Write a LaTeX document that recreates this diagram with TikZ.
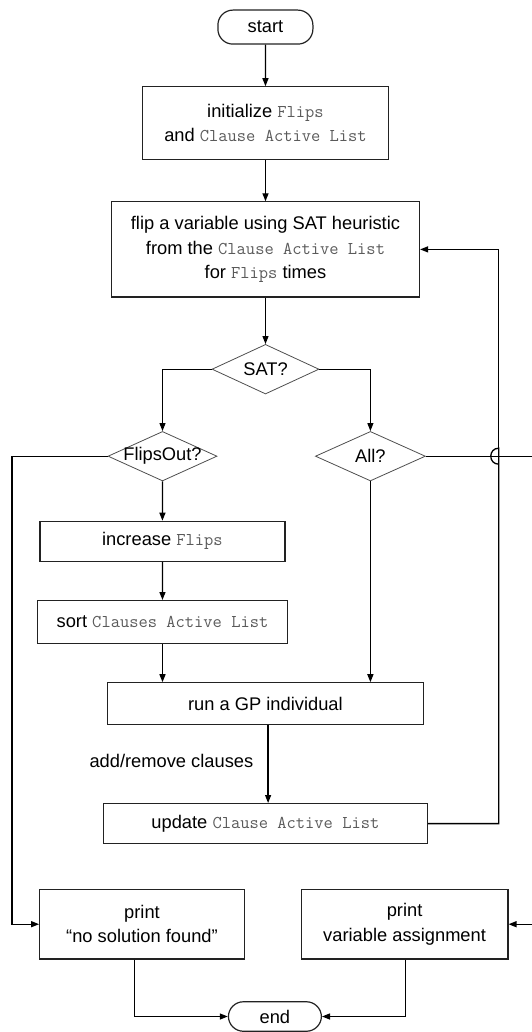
\documentclass[tikz,border=0pt]{standalone}
\usepackage{fontspec}
\setmainfont{Liberation Sans}
\usetikzlibrary{arrows.meta,shapes.geometric}
\definecolor{codegray}{HTML}{5A5A5A}
\definecolor{edgegray}{HTML}{222222}
\newcommand{\code}[1]{{\ttfamily\fontsize{18}{24.3}\selectfont\color{codegray}#1}}
\tikzset{
  every node/.style={font=\fontsize{18.3}{24.3}\selectfont, inner sep=0pt},
  procbox/.style={draw=edgegray, line width=1.2pt, rectangle, align=center},
  termbox/.style={draw=edgegray, line width=1.2pt, rectangle, rounded corners=15pt},
  testbox/.style={draw=edgegray!80, line width=0.8pt, diamond},
  arr/.style={line width=1.3pt, -{Triangle[length=8pt,width=6pt]}},
  thinarr/.style={line width=1pt, -{Triangle[length=8pt,width=6pt]}},
  plain/.style={line width=1.3pt},
}
\begin{document}
\begin{tikzpicture}[x=1pt, y=-1pt]
\useasboundingbox (0,0) rectangle (532,1032);

% terminators
\node[termbox, minimum width=95pt, minimum height=34pt] (start) at (265.4,27.1) {start};
\node[termbox, minimum width=93pt, minimum height=29.5pt] (end) at (274.9,1016.5) {end};

% process boxes
\node[procbox, minimum width=246pt, minimum height=73pt] (init) at (265.5,123.3)
  {initialize \code{Flips}\\and \code{Clause Active List}};
\node[procbox, minimum width=308pt, minimum height=95pt] (flip) at (265.5,249.4)
  {flip a variable using SAT heuristic\\from the \code{Clause Active List}\\for \code{Flips} times};
\node[procbox, minimum width=245pt, minimum height=40pt] (inc) at (162.4,541.3)
  {increase \code{Flips}};
\node[procbox, minimum width=250pt, minimum height=43pt] (sort) at (162.5,622.1)
  {sort \code{Clauses Active List}};
\node[procbox, minimum width=316pt, minimum height=42pt] (gp) at (265.4,703.8)
  {run a GP individual};
\node[procbox, minimum width=324pt, minimum height=40pt] (upd) at (265.4,823.6)
  {update \code{Clause Active List}};
\node[procbox, minimum width=204.6pt, minimum height=69.5pt] (nosol) at (142,924.2)
  {print\\``no solution found''};
\node[procbox, minimum width=206.7pt, minimum height=69.5pt] (var) at (404.6,924.2)
  {print\\variable assignment};

% decisions
\node[testbox, minimum width=107pt, minimum height=49.6pt] (sat) at (265.5,369.2) {};
\node at (sat.center) (satlbl) {SAT?};
\node[testbox, minimum width=109pt, minimum height=49.5pt] (fo) at (162.5,456.2) {};
\node at (fo.center) (folbl) {FlipsOut?};
\node[testbox, minimum width=110pt, minimum height=49.5pt] (all) at (370.4,456.2) {};
\node at (all.center) (alllbl) {All?};

% edge label
\node (addrm) at (171.4,761.1) {add/remove clauses};

% routing points
\coordinate (leftrail) at (11.9,0);
\coordinate (looprail) at (498.8,0);
\coordinate (rightrail) at (537,0);

% main flow
\draw[arr] (start) -- (init);
\draw[arr] (init) -- (flip);
\draw[arr] (flip) -- (sat);
\draw[thinarr] (sat.west) -| (fo.north);
\draw[thinarr] (sat.east) -| (all.north);
\draw[arr] (fo) -- (inc);
\draw[arr] (inc) -- (sort);
\draw[arr] (sort) -- (sort |- gp.north);
\draw[arr] (all) -- (all |- gp.north);
\draw[arr] ([xshift=2.7pt]gp.south) -- ([xshift=2.7pt]upd.north);

% loop back from the update, hopping over the All? exit line
\coordinate (hoplow) at ([yshift=8pt]looprail |- all.east);
\coordinate (hophigh) at ([yshift=-8pt]looprail |- all.east);
\draw[plain] (upd.east) -- (looprail |- upd.east) -- (hoplow)
  .. controls ([xshift=-10.7pt]hoplow) and ([xshift=-10.7pt]hophigh) .. (hophigh);
\draw[arr] (hophigh) -- (looprail |- flip.east) -- (flip.east);

% exits
\draw[arr] (fo.west) -| (leftrail |- nosol.west) -- (nosol.west);
\draw[arr] (all.east) -- (rightrail |- all.east) -- (rightrail |- var.east) -- (var.east);
\draw[arr] ([xshift=-7.3pt]nosol.south) |- (end.west);
\draw[arr] ([xshift=0.9pt]var.south) |- (end.east);
\end{tikzpicture}
\end{document}
